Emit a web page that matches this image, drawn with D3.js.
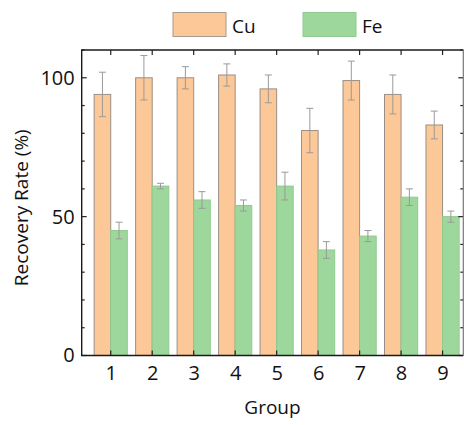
<!DOCTYPE html>
<meta charset="utf-8">
<script src="https://d3js.org/d3.v7.min.js"></script>
<style>
  body { margin: 0; background: #fff; }
  text { font-family: "Open Sans", sans-serif; fill: #111; }
</style>
<div id="my_dataviz"></div>
<script>

// data
var groups = [1, 2, 3, 4, 5, 6, 7, 8, 9];
var cuValues = [94, 100, 100, 101, 96, 81, 99, 94, 83];
var cuErrors = [8, 8, 4, 4, 5, 8, 7, 7, 5];
var feValues = [45, 61, 56, 54, 61, 38, 43, 57, 50];
var feErrors = [3, 1, 3, 2, 5, 3, 2, 3, 2];
var yTicks = [0, 50, 100];

var W = 464, H = 425;
var margin = {top: 50, right: 0.7, bottom: 69.5, left: 81.7};

var svg = d3.select("#my_dataviz")
  .append("svg")
    .attr("width", W)
    .attr("height", H);

var x = d3.scaleLinear()
  .domain([0.3, 9.5])
  .range([margin.left, W - margin.right]);

var y = d3.scaleLinear()
  .domain([0, 110])
  .range([H - margin.bottom, margin.top]);

var barW = 0.4;

// Cu bars, left of the tick
svg.selectAll(".cu")
  .data(groups)
  .enter()
  .append("rect")
    .attr("class", "cu")
    .attr("x", function(d) { return x(d - barW); })
    .attr("width", function(d) { return x(d) - x(d - barW); })
    .attr("y", function(d, i) { return y(cuValues[i]); })
    .attr("height", function(d, i) { return y(0) - y(cuValues[i]); })
    .attr("fill", "#fdc897")
    .attr("stroke", "#9a8f86")
    .attr("stroke-width", 1);

// Fe bars, right of the tick
svg.selectAll(".fe")
  .data(groups)
  .enter()
  .append("rect")
    .attr("class", "fe")
    .attr("x", function(d) { return x(d); })
    .attr("width", function(d) { return x(d + barW) - x(d); })
    .attr("y", function(d, i) { return y(feValues[i]); })
    .attr("height", function(d, i) { return y(0) - y(feValues[i]); })
    .attr("fill", "#9ed79c")
    .attr("stroke", "#8fcb8e")
    .attr("stroke-width", 1);

// error bars
function errorBars(vals, errs, offset, cls) {
  var g = svg.selectAll("." + cls)
    .data(groups)
    .enter()
    .append("g")
      .attr("class", cls)
      .attr("stroke", "#9a9a9a")
      .attr("stroke-width", 1);
  g.append("line")
    .attr("x1", function(d) { return x(d + offset); })
    .attr("x2", function(d) { return x(d + offset); })
    .attr("y1", function(d, i) { return y(vals[i] + errs[i]); })
    .attr("y2", function(d, i) { return y(vals[i] - errs[i]); });
  [1, -1].forEach(function(s) {
    g.append("line")
      .attr("x1", function(d) { return x(d + offset) - 3.5; })
      .attr("x2", function(d) { return x(d + offset) + 3.5; })
      .attr("y1", function(d, i) { return y(vals[i] + s * errs[i]); })
      .attr("y2", function(d, i) { return y(vals[i] + s * errs[i]); });
  });
}
errorBars(cuValues, cuErrors, -barW / 2, "cuErr");
errorBars(feValues, feErrors, barW / 2, "feErr");

// axes
var minor = d3.range(0, 111, 10);

var left = svg.append("g")
  .attr("transform", "translate(" + margin.left + ",0)")
  .call(d3.axisLeft(y).tickValues(yTicks).tickSize(0).tickPadding(7));
left.selectAll("text").style("font-size", "20px");
left.select(".domain").remove();

var bottom = svg.append("g")
  .attr("transform", "translate(0," + (H - margin.bottom) + ")")
  .call(d3.axisBottom(x).tickValues(groups).tickFormat(d3.format("d")).tickSize(0).tickPadding(10));
bottom.selectAll("text").style("font-size", "20px");
bottom.select(".domain").remove();

// inner ticks
var tk = svg.append("g").attr("stroke", "#222").attr("stroke-width", 1.2);
minor.forEach(function(v) {
  var len = (v % 50 === 0) ? 5 : 3;
  tk.append("line")
    .attr("x1", x.range()[0]).attr("x2", x.range()[0] + len)
    .attr("y1", y(v)).attr("y2", y(v));
  tk.append("line")
    .attr("x1", x.range()[1]).attr("x2", x.range()[1] - len)
    .attr("y1", y(v)).attr("y2", y(v));
});
groups.forEach(function(g) {
  tk.append("line")
    .attr("x1", x(g)).attr("x2", x(g))
    .attr("y1", y(0)).attr("y2", y(0) - 5);
  tk.append("line")
    .attr("x1", x(g)).attr("x2", x(g))
    .attr("y1", y(110)).attr("y2", y(110) + 5);
});

// frame
svg.append("path")
  .attr("d", "M" + x(9.5) + "," + y(110) + "H" + x(0.3) + "V" + y(0) + "H" + x(9.5))
  .attr("fill", "none")
  .attr("stroke", "#1a1a1a")
  .attr("stroke-width", 1.4);
svg.append("line")
  .attr("x1", x(9.5)).attr("x2", x(9.5))
  .attr("y1", y(110)).attr("y2", y(0))
  .attr("stroke", "#777")
  .attr("stroke-width", 1.2);

// axis titles
svg.append("text")
  .attr("transform", "translate(28," + ((y(0) + y(110)) / 2 + 5) + ") rotate(-90)")
  .attr("text-anchor", "middle")
  .style("font-size", "19px")
  .text("Recovery Rate (%)");

svg.append("text")
  .attr("x", (x.range()[0] + x.range()[1]) / 2)
  .attr("y", 414)
  .attr("text-anchor", "middle")
  .style("font-size", "19px")
  .text("Group");

// legend
var legend = [
  {name: "Cu", fill: "#fdc897", stroke: "#a89a8e", x: 173},
  {name: "Fe", fill: "#9ed79c", stroke: "#8fcb8e", x: 303}
];
legend.forEach(function(l) {
  svg.append("rect")
    .attr("x", l.x).attr("y", 12.5)
    .attr("width", 53).attr("height", 24)
    .attr("fill", l.fill)
    .attr("stroke", l.stroke)
    .attr("stroke-width", 1);
  svg.append("text")
    .attr("x", l.x + 59).attr("y", 32.5)
    .style("font-size", "19px")
    .text(l.name);
});

</script>
